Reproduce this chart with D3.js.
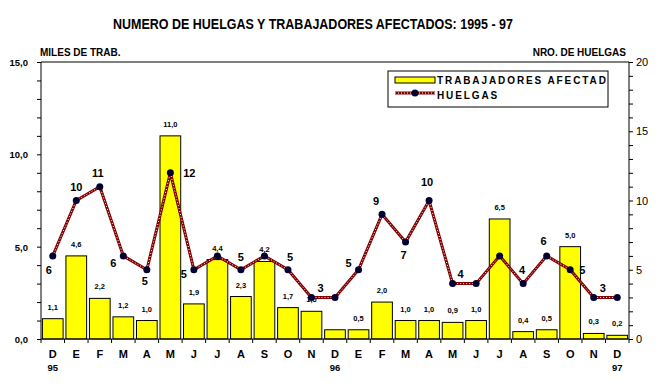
<!DOCTYPE html>
<html>
<head>
<meta charset="utf-8">
<script src="https://cdn.jsdelivr.net/npm/d3@7"></script>
<style>
  body { margin: 0; background: #fff; }
  svg { display: block; font-family: "Liberation Sans", Arial, sans-serif; }
</style>
</head>
<body>
<div id="chart"></div>
<script>
// data
const months = ["D","E","F","M","A","M","J","J","A","S","O","N","D","E","F","M","A","M","J","J","A","S","O","N","D"]
const years = ["95","","","","","","","","","","","","96","","","","","","","","","","","","97"]
const trabajadores = [1.1,4.5,2.2,1.2,1.0,11.0,1.9,4.3,2.3,4.2,1.7,1.5,0.5,0.5,2.0,1.0,1.0,0.9,1.0,6.5,0.4,0.5,5.0,0.3,0.2]
const trabLabels = ["1,1","4,6","2,2","1,2","1,0","11,0","1,9","4,4","2,3","4,2","1,7","1,5",null,"0,5","2,0","1,0","1,0","0,9","1,0","6,5","0,4","0,5","5,0","0,3","0,2"]
const huelgas = [6,10,11,6,5,12,5,6,5,6,5,3,3,5,9,7,10,4,4,6,4,6,5,3,3]
const leftTicks = [0,5,10,15]
const rightTicks = [0,5,10,15,20]

// where each strike count label goes relative to its point (null = hidden)
const huelgaLabelPos = [[-4,18],[0,-10],[-2,-10],[-10,11],[-2,15],[19,4],[-10,8],null,[0,-9],null,[2,-9],[9,-5],null,
                        [-10,-3],[-6,-9],[-2,17],[-2,-15],[8,-6],null,null,[-1,-10],[-3,-11],[12,4],[9,-5],null]

const width = 659, height = 387
const margin = {top: 62, right: 30, bottom: 48, left: 41}

const svg = d3.select("#chart").append("svg")
    .attr("width", width)
    .attr("height", height)

const x = d3.scaleBand()
    .domain(d3.range(months.length))
    .range([margin.left, width - margin.right])
    .paddingInner(0.12)
    .paddingOuter(0.06)

const yL = d3.scaleLinear().domain([0, 15]).range([height - margin.bottom, margin.top])
const yR = d3.scaleLinear().domain([0, 20]).range([height - margin.bottom, margin.top])

const x0 = margin.left, x1 = width - margin.right
const step = (x1 - x0) / months.length
const cx = i => x(i) + x.bandwidth() / 2

// title
svg.append("text")
    .attr("x", 113).attr("y", 29)
    .attr("font-size", 14.5).attr("font-weight", "bold")
    .attr("textLength", 400).attr("lengthAdjust", "spacingAndGlyphs")
    .text("NUMERO DE HUELGAS Y TRABAJADORES AFECTADOS: 1995 - 97")

svg.append("text")
    .attr("x", 40).attr("y", 56)
    .attr("font-size", 10).attr("font-weight", "bold")
    .text("MILES DE TRAB.")

svg.append("text")
    .attr("x", 626).attr("y", 56)
    .attr("text-anchor", "end")
    .attr("font-size", 10).attr("font-weight", "bold")
    .text("NRO. DE HUELGAS")

// bars
svg.append("g").selectAll("rect")
    .data(trabajadores)
    .join("rect")
    .attr("x", (d, i) => x(i))
    .attr("y", d => yL(d))
    .attr("width", x.bandwidth())
    .attr("height", d => yL(0) - yL(d))
    .attr("fill", "#ffff00")
    .attr("stroke", "#000")
    .attr("stroke-width", 1)

svg.append("g").selectAll("text")
    .data(trabajadores)
    .join("text")
    .attr("x", (d, i) => cx(i))
    .attr("y", d => yL(d) - 9)
    .attr("text-anchor", "middle")
    .attr("font-size", 7.5).attr("font-weight", "bold")
    .text((d, i) => trabLabels[i])

// strikes line
const line = d3.line()
    .x((d, i) => cx(i))
    .y(d => yR(d))

svg.append("path")
    .datum(huelgas)
    .attr("d", line)
    .attr("fill", "none")
    .attr("stroke", "#800000")
    .attr("stroke-width", 3)
svg.append("path")
    .datum(huelgas)
    .attr("d", line)
    .attr("fill", "none")
    .attr("stroke", "#fff")
    .attr("stroke-width", 1)
    .attr("stroke-dasharray", "1,2")

svg.append("g").selectAll("circle")
    .data(huelgas)
    .join("circle")
    .attr("cx", (d, i) => cx(i))
    .attr("cy", d => yR(d))
    .attr("r", 3.5)
    .attr("fill", "#000033")

const hLabels = huelgas.map((v, i) => ({v, i, pos: huelgaLabelPos[i]})).filter(d => d.pos)
svg.append("g").selectAll("text")
    .data(hLabels)
    .join("text")
    .attr("x", d => cx(d.i) + d.pos[0])
    .attr("y", d => yR(d.v) + d.pos[1])
    .attr("text-anchor", "middle")
    .attr("font-size", 11).attr("font-weight", "bold")
    .text(d => d.v)

// frame top
svg.append("line").attr("x1", x0).attr("x2", x1).attr("y1", margin.top).attr("y2", margin.top).attr("stroke", "#000")

// left axis
svg.append("g")
    .attr("transform", `translate(${x0},0)`)
    .call(d3.axisLeft(yL).tickValues(d3.range(0, 16, 1)).tickSize(4).tickFormat(""))
    .call(g => g.select(".domain").attr("d", `M0,${margin.top}V${height - margin.bottom}`))
svg.append("g").selectAll("text")
    .data(leftTicks)
    .join("text")
    .attr("x", 28).attr("y", d => yL(d) + 4)
    .attr("text-anchor", "end")
    .attr("font-size", 9.5).attr("font-weight", "bold")
    .text(d => d3.format(".1f")(d).replace(".", ","))

// right axis
svg.append("g")
    .attr("transform", `translate(${x1},0)`)
    .call(d3.axisRight(yR).tickValues(d3.range(0, 21, 1)).tickSize(4).tickFormat(""))
    .call(g => g.select(".domain").attr("d", `M0,${margin.top}V${height - margin.bottom}`))
svg.append("g").selectAll("text")
    .data(rightTicks)
    .join("text")
    .attr("x", x1 + 7).attr("y", d => yR(d) + 4)
    .attr("font-size", 11)
    .text(d => d)

// bottom axis
const bottom = height - margin.bottom
svg.append("line").attr("x1", x0).attr("x2", x1).attr("y1", bottom).attr("y2", bottom).attr("stroke", "#000")
svg.append("g").selectAll("line")
    .data(d3.range(months.length + 1))
    .join("line")
    .attr("x1", i => x0 + i * step).attr("x2", i => x0 + i * step)
    .attr("y1", bottom).attr("y2", bottom + 4)
    .attr("stroke", "#000")

svg.append("g").selectAll("text")
    .data(months)
    .join("text")
    .attr("x", (d, i) => cx(i))
    .attr("y", bottom + 19)
    .attr("text-anchor", "middle")
    .attr("font-size", 11).attr("font-weight", "bold")
    .text(d => d)

svg.append("g").selectAll("text")
    .data(years)
    .join("text")
    .attr("x", (d, i) => cx(i))
    .attr("y", bottom + 32)
    .attr("text-anchor", "middle")
    .attr("font-size", 9.5).attr("font-weight", "bold")
    .text(d => d)

// legend
const legend = svg.append("g").attr("transform", "translate(388,71)")
legend.append("clipPath").attr("id", "legclip")
    .append("rect").attr("width", 220).attr("height", 36)
legend.append("rect")
    .attr("width", 220).attr("height", 36)
    .attr("fill", "#fff").attr("stroke", "#000")
const legInner = legend.append("g").attr("clip-path", "url(#legclip)")
legInner.append("rect")
    .attr("x", 7).attr("y", 6).attr("width", 40).attr("height", 6)
    .attr("fill", "#ffff00").attr("stroke", "#000")
legInner.append("text")
    .attr("x", 49).attr("y", 13)
    .attr("font-size", 10).attr("font-weight", "bold")
    .attr("letter-spacing", 1.9)
    .text("TRABAJADORES AFECTADOS")
legInner.append("line")
    .attr("x1", 7).attr("x2", 47).attr("y1", 22).attr("y2", 22)
    .attr("stroke", "#800000").attr("stroke-width", 3)
legInner.append("line")
    .attr("x1", 7).attr("x2", 47).attr("y1", 22).attr("y2", 22)
    .attr("stroke", "#fff").attr("stroke-width", 1).attr("stroke-dasharray", "1,2")
legInner.append("circle")
    .attr("cx", 27).attr("cy", 22).attr("r", 3.5).attr("fill", "#000033")
legInner.append("text")
    .attr("x", 49).attr("y", 28)
    .attr("font-size", 10).attr("font-weight", "bold")
    .attr("letter-spacing", 1.9)
    .text("HUELGAS")
</script>
</body>
</html>
